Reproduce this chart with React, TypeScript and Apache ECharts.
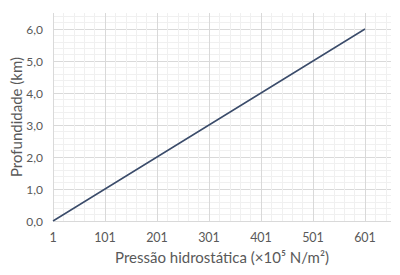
import React, { useEffect, useRef } from "react";
import * as echarts from "echarts";

const pressure = [1, 101, 201, 301, 401, 501, 601];
const depth = [0, 1, 2, 3, 4, 5, 6];
const xTitle = "Pressão hidrostática (×10⁵ N/m²)";
const yTitle = "Profundidade (km)";
const X_OFFSET = 1;

export default function App() {
  const ref = useRef<HTMLDivElement>(null);
  useEffect(() => {
    if (!ref.current) return;
    const chart = echarts.init(ref.current, undefined, { renderer: "svg" });
    const font = "Lato, 'Open Sans', sans-serif";
    chart.setOption({
      animation: false,
      grid: { left: 53, right: 9, top: 13, bottom: 54, containLabel: false, outerBoundsMode: "none" },
      xAxis: [
        {
          type: "value",
          min: 0,
          max: 650,
          interval: 20,
          axisLine: { show: false },
          axisTick: { show: false },
          axisLabel: { show: false },
          splitLine: { show: true, showMaxLine: false, lineStyle: { color: "#f0f0f0", width: 1 } },
        },
        {
          type: "value",
          min: 0,
          max: 650,
          interval: 100,
          position: "bottom",
          axisLine: { show: false },
          axisTick: { show: false },
          axisLabel: {
            color: "#595959",
            fontSize: 12.5,
            fontFamily: font,
            margin: 10,
            showMaxLabel: false,
            formatter: (v: number) => String(v + X_OFFSET),
          },
          splitLine: { show: true, showMaxLine: false, lineStyle: { color: "#d9d9d9", width: 1 } },
          name: xTitle,
          nameLocation: "middle",
          nameGap: 28,
          nameMoveOverlap: false,
          nameTextStyle: { color: "#595959", fontSize: 15, fontFamily: font },
        },
      ],
      yAxis: [
        {
          type: "value",
          min: 0,
          max: 6.5,
          interval: 0.2,
          axisLine: { show: false },
          axisTick: { show: false },
          axisLabel: { show: false },
          splitLine: { show: true, showMaxLine: false, lineStyle: { color: "#f0f0f0", width: 1 } },
        },
        {
          type: "value",
          min: 0,
          max: 6.5,
          interval: 1,
          position: "left",
          axisLine: { show: false },
          axisTick: { show: false },
          axisLabel: {
            color: "#595959",
            fontSize: 12,
            fontFamily: font,
            margin: 10,
            showMaxLabel: false,
            formatter: (v: number) => v.toFixed(1).replace(".", ","),
          },
          splitLine: { show: true, showMaxLine: false, lineStyle: { color: "#d9d9d9", width: 1 } },
          name: yTitle,
          nameLocation: "middle",
          nameGap: 30,
          nameRotate: 90,
          nameMoveOverlap: false,
          nameTextStyle: { color: "#595959", fontSize: 15, fontFamily: font },
        },
      ],
      series: [
        {
          type: "line",
          xAxisIndex: 1,
          yAxisIndex: 1,
          data: pressure.map((p, i) => [p - X_OFFSET, depth[i]]),
          showSymbol: false,
          lineStyle: { color: "#3b4c6b", width: 1.5 },
          itemStyle: { color: "#3b4c6b" },
        },
      ],
    });
    return () => chart.dispose();
  }, []);
  return (
    <div
      ref={ref}
      style={{ position: "absolute", left: 0, top: 0, width: 400, height: 275 }}
    />
  );
}
